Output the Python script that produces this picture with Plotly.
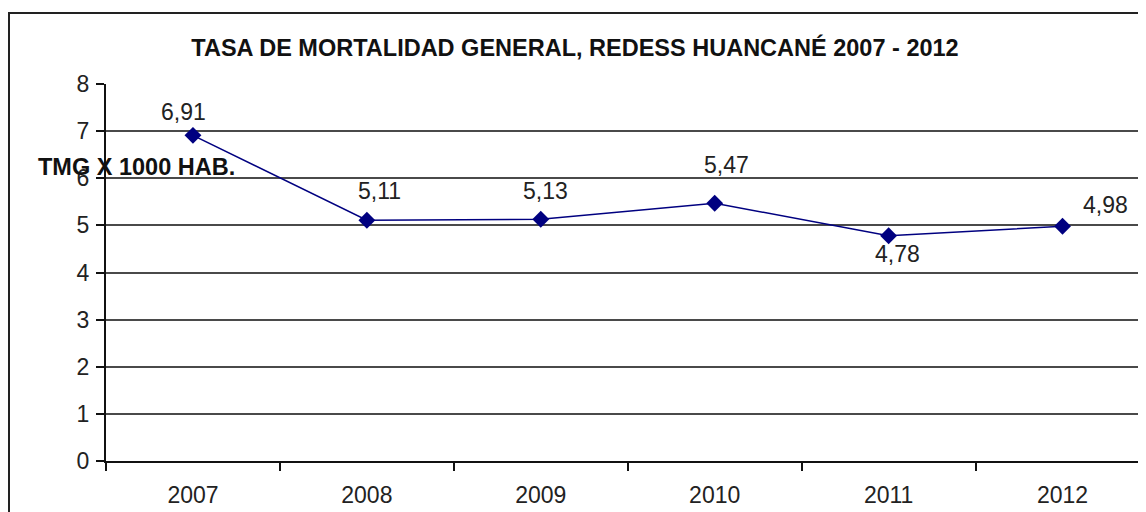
import plotly.graph_objects as go

# datos
anios = ["2007", "2008", "2009", "2010", "2011", "2012"]
tmg = [6.91, 5.11, 5.13, 5.47, 4.78, 4.98]
y_ticks = [0, 1, 2, 3, 4, 5, 6, 7, 8]

# desplazamiento de las etiquetas (px) como en el original
label_shift = [(-9, 23), (13, 29), (5, 28), (12, 38), (9, -18), (43, 21)]

# la pagina tiene 8px de margen en el body, asi que la figura es un poco menor
W, H = 1138, 504
L, T, B = 98, 76, 51
PW, PH = W - L, H - T - B

fig = go.Figure(data=[go.Scatter(
    x=anios,
    y=tmg,
    mode="lines+markers",
    line=dict(color="#000080", width=1.5),
    marker=dict(symbol="diamond", size=13, color="#000080"),
    hoverinfo="skip",
)])

# en eje de categorias la anotacion se ubica por indice
for i, (valor, (dx, dy)) in enumerate(zip(tmg, label_shift)):
    fig.add_annotation(
        x=i, y=valor, text=f"{valor:.2f}".replace(".", ","),
        showarrow=False, xshift=dx, yshift=dy,
        font=dict(size=23, color="#222222"),
    )

fig.add_annotation(
    text="<b>TMG X 1000 HAB.</b>", xref="paper", yref="paper",
    x=(28 - L) / PW, y=(H - B - 159) / PH, xanchor="left", yanchor="middle",
    showarrow=False, font=dict(size=23.5, color="#111111"),
)

# marco exterior
fig.add_shape(
    type="rect", xref="paper", yref="paper",
    x0=(1 - L) / PW, x1=1.1, y0=-0.3, y1=(H - B - 5) / PH,
    line=dict(color="#222222", width=2), layer="above",
)

fig.update_layout(
    title=dict(
        text="<b>TASA DE MORTALIDAD GENERAL, REDESS HUANCANÉ 2007 - 2012</b>",
        xref="paper", x=(567 - L) / PW, xanchor="center",
        yref="container", y=1 - 40 / H, yanchor="middle",
        font=dict(size=23.5, color="#111111"),
    ),
    font=dict(family="Liberation Sans, Arial, sans-serif", color="#222222"),
    width=W,
    height=H,
    margin=dict(t=T, l=L, r=0, b=B),
    paper_bgcolor="white",
    plot_bgcolor="white",
    showlegend=False,
    xaxis=dict(
        type="category",
        range=[-0.5, 5.48],
        tickson="boundaries",
        ticks="outside", ticklen=8, tickwidth=2, tickcolor="#111111",
        showgrid=False,
        showline=True, linecolor="#111111", linewidth=2,
        tickfont=dict(size=23),
        ticklabelstandoff=12,
    ),
    yaxis=dict(
        range=[0, 8],
        tickvals=y_ticks,
        ticks="outside", ticklen=8, tickwidth=2, tickcolor="#111111",
        showgrid=True, gridcolor="#4a4a4a", gridwidth=2,
        zeroline=False,
        showline=True, linecolor="#111111", linewidth=2,
        tickfont=dict(size=23),
        ticklabelstandoff=2,
    ),
)

fig.write_html("out.html")
